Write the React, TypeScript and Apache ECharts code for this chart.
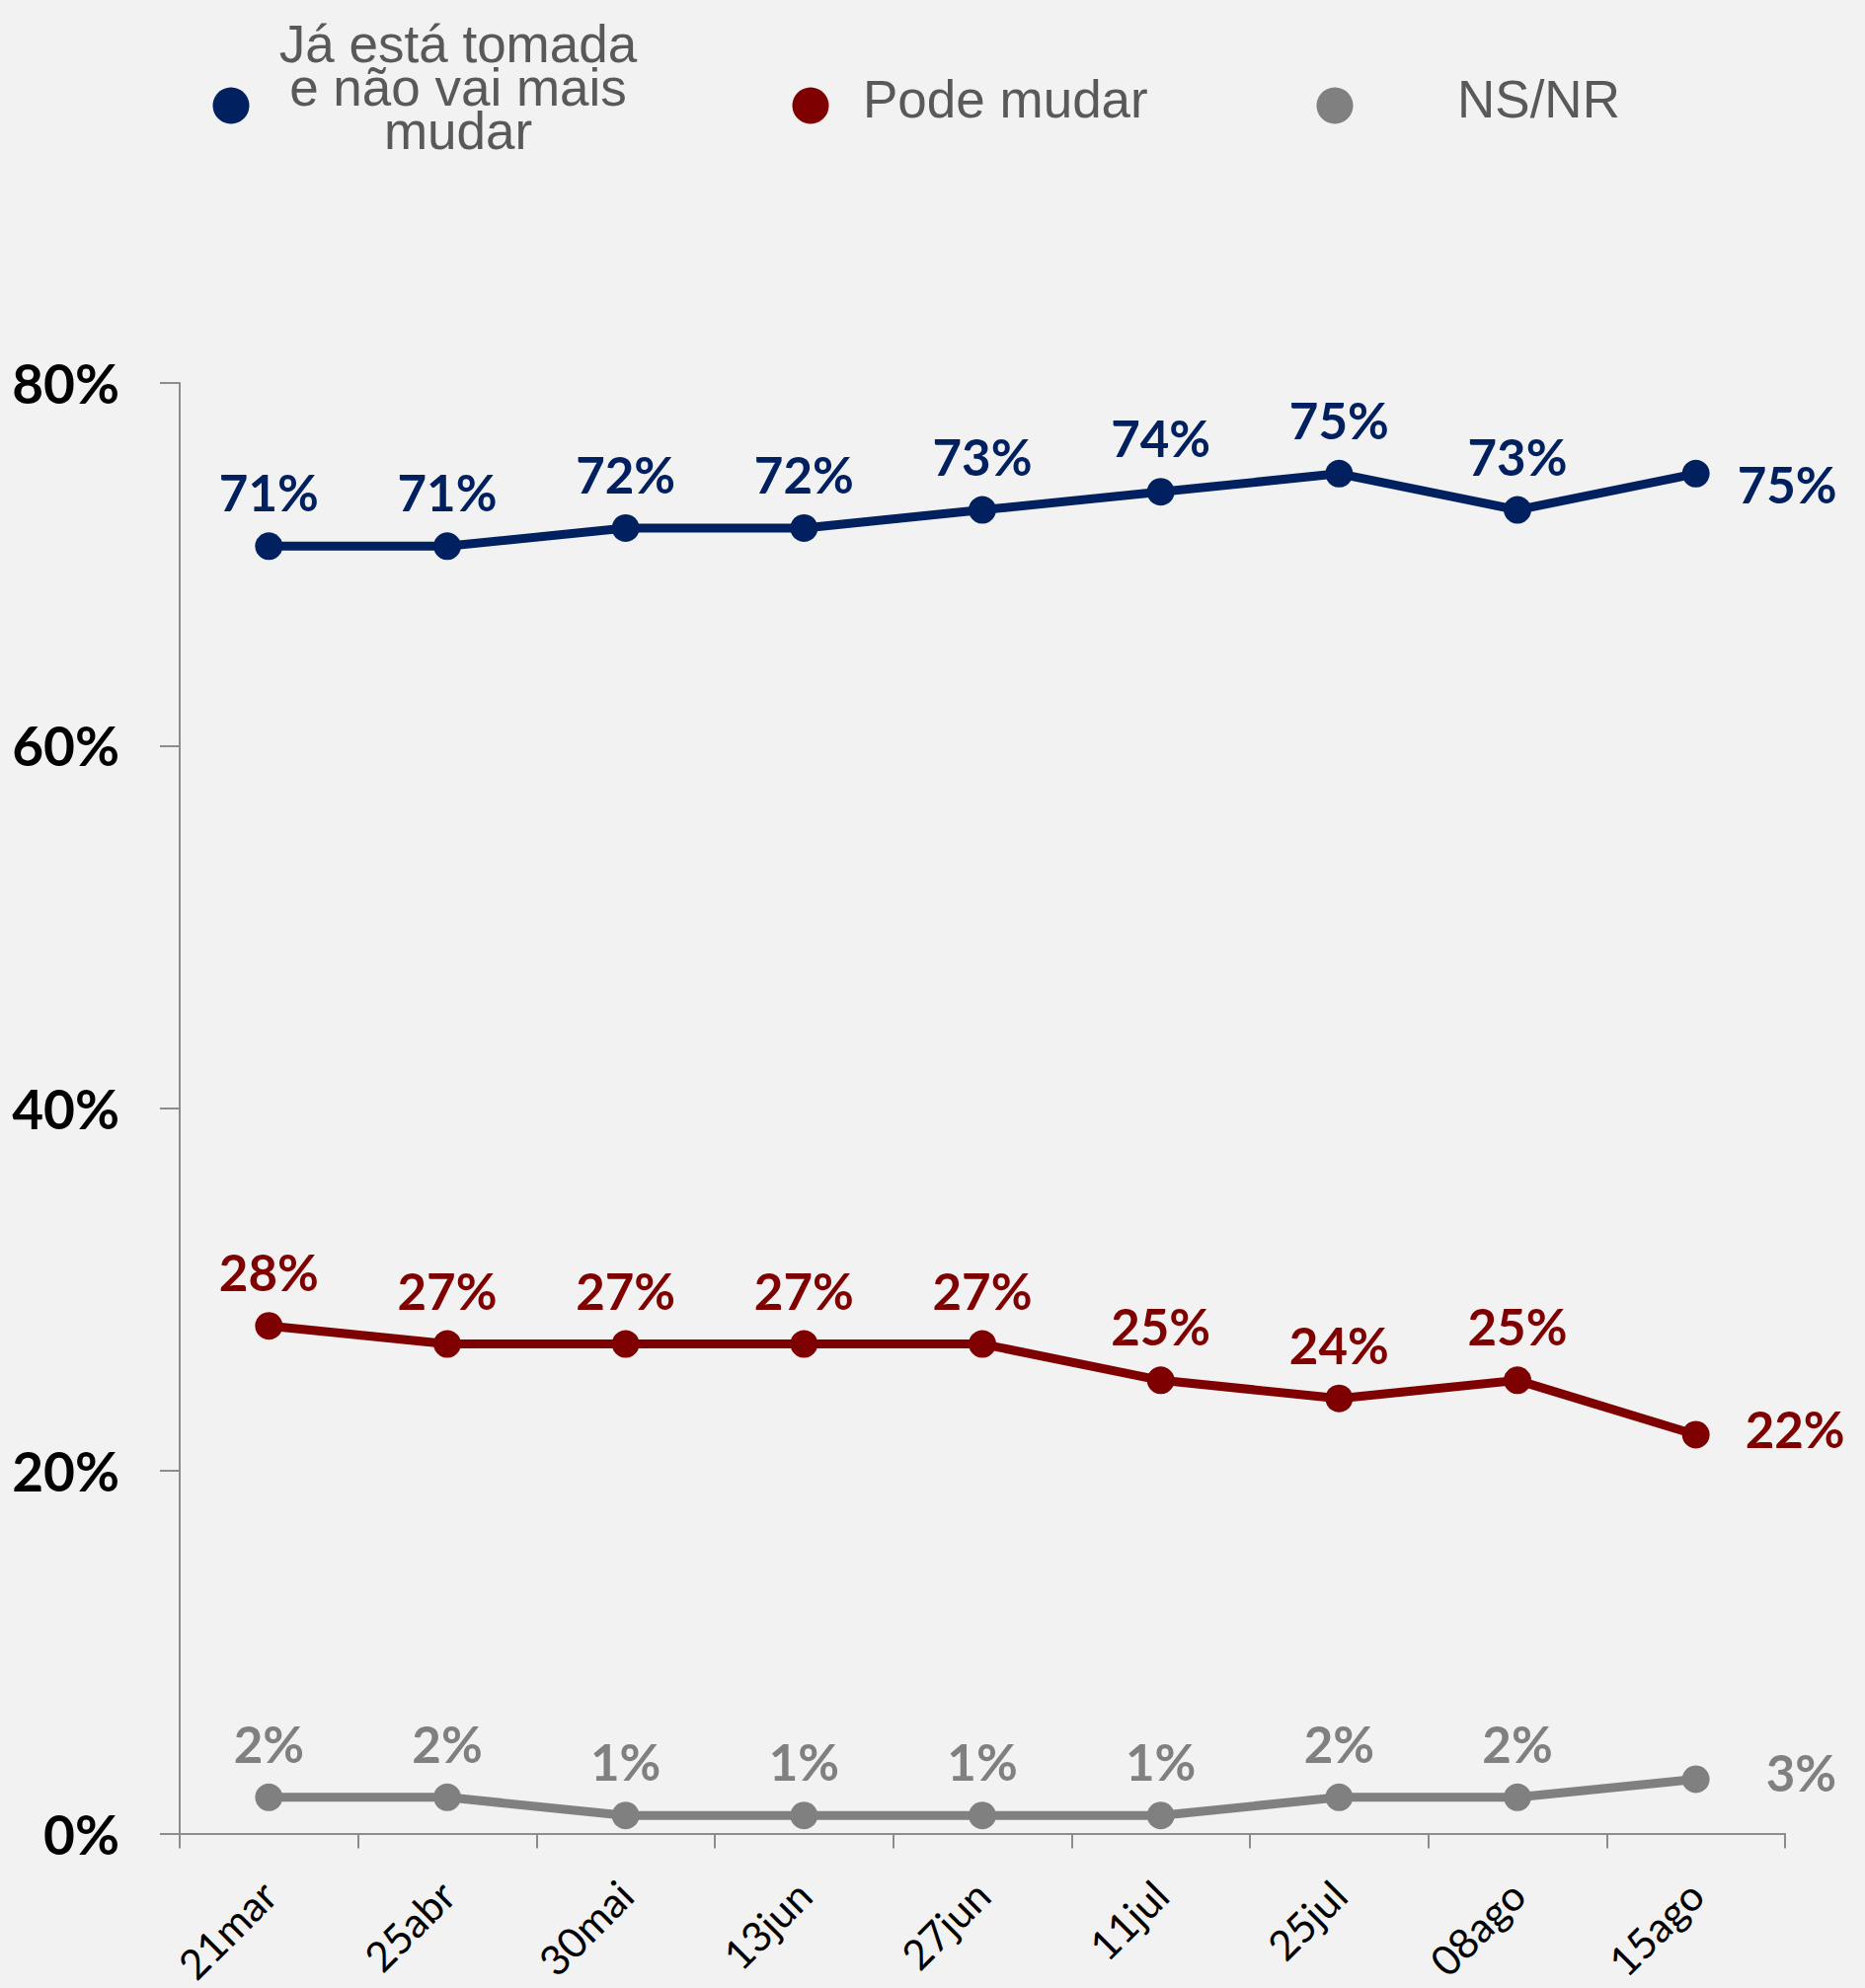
import React, { useEffect, useRef } from "react";
import * as echarts from "echarts";

const categories = ["21mar", "25abr", "30mai", "13jun", "27jun", "11jul", "25jul", "08ago", "15ago"];
const seriesNames = ["Já está tomada\ne não vai mais\nmudar", "Pode mudar", "NS/NR"];
const tomada = [71, 71, 72, 72, 73, 74, 75, 73, 75];
const podeMudar = [28, 27, 27, 27, 27, 25, 24, 25, 22];
const nsnr = [2, 2, 1, 1, 1, 1, 2, 2, 3];
const yTicks = { min: 0, max: 80, interval: 20 };

const BLUE = "#002060";
const RED = "#7F0000";
const GRAY = "#808080";
const LABEL_FONT = "Lato";

function buildSeries(name: string, values: number[], color: string, lastDist: number, lastDy: number) {
  const last = values.length - 1;
  return {
    name,
    type: "line",
    data: values.map((v, i) =>
      i === last
        ? { value: v, label: { position: "right", distance: lastDist, offset: [0, lastDy] } }
        : v
    ),
    symbol: "circle",
    symbolSize: 28,
    lineStyle: { color, width: 9 },
    itemStyle: { color },
    label: {
      show: true,
      position: "top",
      distance: 15,
      formatter: "{c}%",
      color,
      fontFamily: LABEL_FONT,
      fontWeight: "bold",
      fontSize: 51,
    },
  };
}

export default function App() {
  const ref = useRef<HTMLDivElement>(null);
  useEffect(() => {
    if (!ref.current) return;
    const chart = echarts.init(ref.current, undefined, { renderer: "svg" });
    const legendFont = { fontFamily: "Liberation Sans", fontSize: 53, fill: "#595959" };
    chart.setOption({
      animation: false,
      backgroundColor: "#F2F2F2",
      grid: { left: 182, right: 81, top: 388, bottom: 151, containLabel: false },
      xAxis: {
        type: "category",
        data: categories,
        boundaryGap: true,
        axisLine: { show: true, lineStyle: { color: "#8C8C8C", width: 2 } },
        axisTick: { show: true, length: 15, lineStyle: { color: "#8C8C8C", width: 2 } },
        axisLabel: {
          rotate: 45,
          margin: 55,
          color: "#000",
          fontFamily: LABEL_FONT,
          fontSize: 42,
        },
      },
      yAxis: {
        type: "value",
        min: yTicks.min,
        max: yTicks.max,
        interval: yTicks.interval,
        splitLine: { show: false },
        axisLine: { show: true, lineStyle: { color: "#8C8C8C", width: 2 } },
        axisTick: { show: true, length: 20, lineStyle: { color: "#8C8C8C", width: 2 } },
        axisLabel: {
          formatter: "{value}%",
          margin: 61,
          color: "#000",
          fontFamily: LABEL_FONT,
          fontWeight: "bold",
          fontSize: 55,
        },
      },
      graphic: [
        { type: "circle", shape: { cx: 234, cy: 107, r: 18.5 }, style: { fill: BLUE } },
        {
          type: "text",
          x: 464,
          y: 88,
          style: { ...legendFont, text: seriesNames[0], align: "center", verticalAlign: "middle", lineHeight: 44 },
        },
        { type: "circle", shape: { cx: 821, cy: 107, r: 18.5 }, style: { fill: RED } },
        {
          type: "text",
          x: 874,
          y: 100,
          style: { ...legendFont, text: seriesNames[1], align: "left", verticalAlign: "middle" },
        },
        { type: "circle", shape: { cx: 1352, cy: 107, r: 18.5 }, style: { fill: GRAY } },
        {
          type: "text",
          x: 1476,
          y: 100,
          style: { ...legendFont, text: seriesNames[2], align: "left", verticalAlign: "middle" },
        },
      ],
      series: [
        buildSeries(seriesNames[0], tomada, BLUE, 28, 11),
        buildSeries(seriesNames[1], podeMudar, RED, 36, -6),
        buildSeries(seriesNames[2], nsnr, GRAY, 57, -7),
      ],
    });
    return () => chart.dispose();
  }, []);
  return (
    <div
      ref={ref}
      style={{ position: "absolute", left: 0, top: 0, width: 1889, height: 2014 }}
    />
  );
}
